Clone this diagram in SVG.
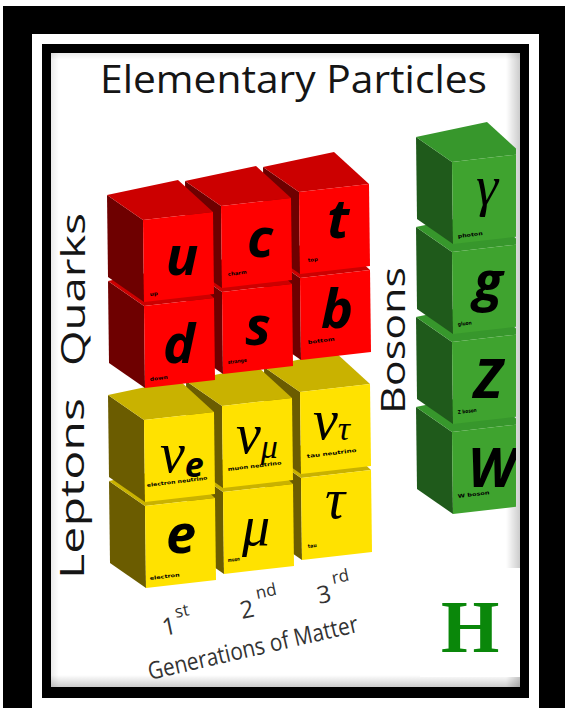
<svg xmlns="http://www.w3.org/2000/svg" width="565" height="708" viewBox="0 0 565 708">
<defs>
<style>
.f{fill:var(--f)} .t{fill:var(--t)} .l{fill:var(--l)}
.q{--f:#ff0000;--t:#cc0000;--l:#6e0000}
.lp{--f:#ffe200;--t:#c9b200;--l:#6b5c00}
.bo{--f:#3fa32f;--t:#37972c;--l:#1f5a1b}
.sym{font-family:"Open Sans","DejaVu Sans",sans-serif;font-weight:bold;font-style:italic;font-size:54px;fill:#000;text-anchor:middle}
.gr{font-family:"Liberation Serif","DejaVu Serif",serif;font-style:italic;font-size:56px;fill:#000;text-anchor:middle}
.nu{font-family:"Liberation Serif","DejaVu Serif",serif;font-style:italic;font-size:56px;fill:#000}
.se{font-family:"Open Sans","DejaVu Sans",sans-serif;font-weight:bold;font-size:34px}
.sg{font-size:34px}
.sm{font-family:"DejaVu Sans",sans-serif;font-weight:bold;font-size:5px;fill:#000}
.lab{font-family:"Open Sans","DejaVu Sans",sans-serif;font-size:32px;fill:#151515}
.ttl{font-family:"Open Sans","DejaVu Sans",sans-serif;font-size:39px;fill:#151515}
.gen{font-family:"Open Sans","DejaVu Sans",sans-serif;font-size:24px;fill:#333}
.sup{font-size:17px}
</style>
<g id="cube">
<polygon class="l" points="0,0 -36,-25 -35,57 1,82"/>
<polygon class="t" points="0,0 70,-8 35,-40 -36,-25"/>
<polygon class="f" points="0,0 70,-8 71,74 1,82"/>
</g>
<clipPath id="clip"><rect x="51" y="53" width="465" height="634"/></clipPath>
<linearGradient id="gR" x1="0" x2="1" y1="0" y2="0"><stop offset="0" stop-color="#000" stop-opacity="0"/><stop offset="1" stop-color="#000" stop-opacity="0.2"/></linearGradient>
<linearGradient id="gL" x1="1" x2="0" y1="0" y2="0"><stop offset="0" stop-color="#000" stop-opacity="0"/><stop offset="1" stop-color="#000" stop-opacity="0.08"/></linearGradient>
<linearGradient id="gB" x1="0" x2="0" y1="0" y2="1"><stop offset="0" stop-color="#000" stop-opacity="0"/><stop offset="1" stop-color="#000" stop-opacity="0.2"/></linearGradient>
<linearGradient id="gT" x1="0" x2="0" y1="1" y2="0"><stop offset="0" stop-color="#000" stop-opacity="0"/><stop offset="1" stop-color="#000" stop-opacity="0.08"/></linearGradient>
</defs>

<g id="frame">
<rect x="0" y="0" width="565" height="708" fill="#fff"/>
<rect x="3" y="6" width="562" height="710" fill="#000"/>
<rect x="32" y="34" width="507" height="690" fill="#fff"/>
<rect x="42" y="44" width="487" height="654" fill="#000"/>
<rect x="51" y="53" width="469" height="634" fill="#fff"/>
<rect x="506" y="53" width="14" height="634" fill="url(#gR)"/>
<rect x="51" y="53" width="8" height="634" fill="url(#gL)"/>
<rect x="51" y="675" width="469" height="12" fill="url(#gB)"/>
<rect x="51" y="53" width="469" height="7" fill="url(#gT)"/>
</g>

<text id="title" class="ttl" x="100" y="93" textLength="387" lengthAdjust="spacingAndGlyphs">Elementary Particles</text>

<g id="connectors"/>

<g id="leptons">
<g id="lepton-tau"><use href="#cube" x="301" y="478" class="lp"/>
<text class="gr" x="335" y="518">τ</text>
<text class="sm" transform="translate(308,548) rotate(-7)" textLength="9" lengthAdjust="spacingAndGlyphs">tau</text></g>
<g id="lepton-muon"><use href="#cube" x="223" y="492" class="lp"/>
<text class="gr" x="256" y="545" font-size="58">μ</text>
<text class="sm" transform="translate(228,562) rotate(-7)" textLength="12" lengthAdjust="spacingAndGlyphs">muon</text></g>
<g id="lepton-electron"><use href="#cube" x="145" y="506" class="lp"/>
<text class="sym" x="181" y="553">e</text>
<text class="sm" transform="translate(150,580) rotate(-7)" textLength="30" lengthAdjust="spacingAndGlyphs">electron</text></g>
<g id="lepton-nutau"><use href="#cube" x="300" y="392" class="lp"/>
<text class="nu" x="313" y="439">ν<tspan class="sg" dy="1">τ</tspan></text>
<text class="sm" transform="translate(307,458) rotate(-7)" textLength="50" lengthAdjust="spacingAndGlyphs">tau neutrino</text></g>
<g id="lepton-numu"><use href="#cube" x="222" y="406" class="lp"/>
<text class="nu" x="236" y="453">ν<tspan class="sg" dy="5">μ</tspan></text>
<text class="sm" transform="translate(228,471) rotate(-7)" textLength="54" lengthAdjust="spacingAndGlyphs">muon neutrino</text></g>
<g id="lepton-nue"><use href="#cube" x="144" y="420" class="lp"/>
<text class="nu" x="160" y="472">ν<tspan class="se" font-style="italic" dy="5">e</tspan></text>
<text class="sm" transform="translate(147,487) rotate(-7)" textLength="61" lengthAdjust="spacingAndGlyphs">electron neutrino</text></g>
</g>

<g id="quarks">
<g id="quark-b"><use href="#cube" x="300" y="278" class="q"/>
<text class="sym" x="337" y="328">b</text>
<text class="sm" transform="translate(308,344) rotate(-7)" textLength="27" lengthAdjust="spacingAndGlyphs">bottom</text></g>
<g id="quark-s"><use href="#cube" x="222" y="292" class="q"/>
<text class="sym" x="258" y="345">s</text>
<text class="sm" transform="translate(228,364) rotate(-7)" textLength="19" lengthAdjust="spacingAndGlyphs">strange</text></g>
<g id="quark-d"><use href="#cube" x="144" y="306" class="q"/>
<text class="sym" x="179" y="363">d</text>
<text class="sm" transform="translate(150,381) rotate(-7)" textLength="18" lengthAdjust="spacingAndGlyphs">down</text></g>
<g id="quark-t"><use href="#cube" x="299" y="192" class="q"/>
<text class="sym" x="338" y="238">t</text>
<text class="sm" transform="translate(308,262) rotate(-7)" textLength="10" lengthAdjust="spacingAndGlyphs">top</text></g>
<g id="quark-c"><use href="#cube" x="221" y="206" class="q"/>
<text class="sym" x="260" y="257">c</text>
<text class="sm" transform="translate(228,276) rotate(-7)" textLength="19" lengthAdjust="spacingAndGlyphs">charm</text></g>
<g id="quark-u"><use href="#cube" x="143" y="220" class="q"/>
<text class="sym" x="182" y="275">u</text>
<text class="sm" transform="translate(150,296) rotate(-7)" textLength="8" lengthAdjust="spacingAndGlyphs">up</text></g>
</g>

<g id="bosons" clip-path="url(#clip)">
<g id="boson-W"><use href="#cube" x="452" y="432" class="bo"/>
<text class="sym" x="492" y="487" font-size="57">W</text>
<text class="sm" transform="translate(458,498) rotate(-7)" textLength="32" lengthAdjust="spacingAndGlyphs">W boson</text></g>
<g id="boson-Z"><use href="#cube" x="452" y="342" class="bo"/>
<text class="sym" x="488" y="398" font-size="57">Z</text>
<text class="sm" transform="translate(458,414) rotate(-7)" textLength="19" lengthAdjust="spacingAndGlyphs">Z boson</text></g>
<g id="boson-g"><use href="#cube" x="452" y="252" class="bo"/>
<text class="sym" x="488" y="300">g</text>
<text class="sm" transform="translate(458,326) rotate(-7)" textLength="14" lengthAdjust="spacingAndGlyphs">gluon</text></g>
<g id="boson-gamma"><use href="#cube" x="452" y="162" class="bo"/>
<text class="gr" x="487" y="205">γ</text>
<text class="sm" transform="translate(458,238) rotate(-7)" textLength="25" lengthAdjust="spacingAndGlyphs">photon</text></g>
</g>

<g id="labels">
<text class="lab" transform="translate(85,366) rotate(-90)" textLength="153" lengthAdjust="spacingAndGlyphs">Quarks</text>
<text class="lab" transform="translate(84,579) rotate(-90)" textLength="181" lengthAdjust="spacingAndGlyphs">Leptons</text>
<text class="lab" transform="translate(405,414) rotate(-90)" textLength="147" lengthAdjust="spacingAndGlyphs">Bosons</text>
</g>

<g id="generations">
<text class="gen" transform="translate(164,636) rotate(-12)">1</text>
<text class="gen sup" transform="translate(176,618) rotate(-12)">st</text>
<text class="gen" transform="translate(242,619) rotate(-12)">2</text>
<text class="gen sup" transform="translate(257,599) rotate(-12)">nd</text>
<text class="gen" transform="translate(319,604) rotate(-12)">3</text>
<text class="gen sup" transform="translate(333,584) rotate(-12)">rd</text>
<text class="gen" transform="translate(150,680) rotate(-13)" textLength="215" lengthAdjust="spacingAndGlyphs">Generations of Matter</text>
</g>

<g id="h-mark">
<rect x="420" y="568" width="100" height="109" fill="#fff"/>
<text x="441" y="652" font-family="Liberation Serif, serif" font-weight="bold" font-size="75" fill="#0a870a">H</text>
</g>
</svg>
